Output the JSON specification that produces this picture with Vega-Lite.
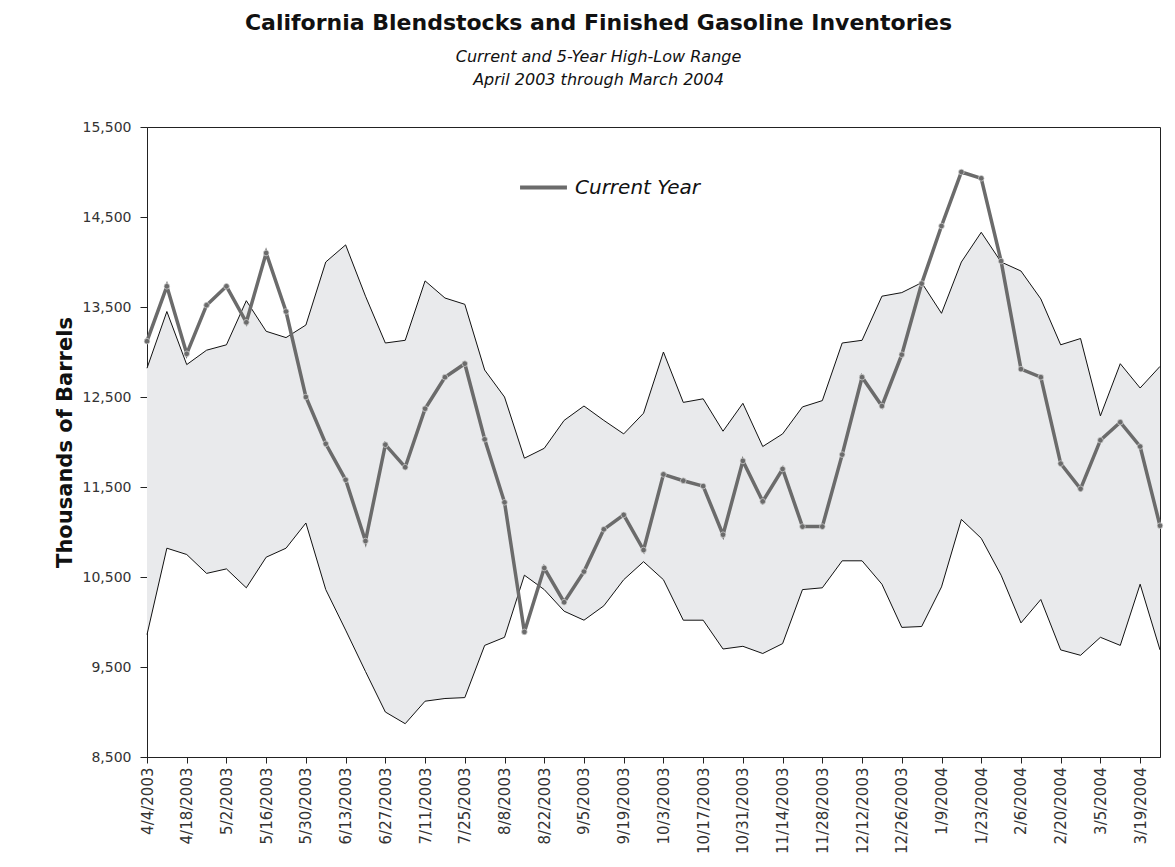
{
  "$schema": "https://vega.github.io/schema/vega-lite/v6.json",
  "width": 1013,
  "height": 630,
  "autosize": "none",
  "padding": {"left": 147, "top": 127, "right": 15, "bottom": 110},
  "background": "white",
  "config": {
    "view": {"stroke": "#222", "strokeWidth": 1},
    "font": "DejaVu Sans"
  },
  "title": {
    "text": "California Blendstocks and Finished Gasoline Inventories",
    "subtitle": ["Current and 5-Year High-Low Range", "April 2003 through March 2004"],
    "font": "DejaVu Sans",
    "fontSize": 22,
    "fontWeight": "bold",
    "color": "#111",
    "subtitleFont": "DejaVu Sans",
    "subtitleFontSize": 16,
    "subtitleFontStyle": "italic",
    "subtitleColor": "#111",
    "subtitleLineHeight": 23,
    "subtitlePadding": 14,
    "anchor": "middle",
    "frame": "group",
    "dx": -55,
    "offset": 31
  },
  "data": {
    "values": [
      {"d": "4/4/2003", "cur": 13120, "hi": 12820, "lo": 9860},
      {"d": "4/11/2003", "cur": 13730, "hi": 13450, "lo": 10820},
      {"d": "4/18/2003", "cur": 12980, "hi": 12860, "lo": 10750},
      {"d": "4/25/2003", "cur": 13520, "hi": 13020, "lo": 10540},
      {"d": "5/2/2003", "cur": 13730, "hi": 13080, "lo": 10590},
      {"d": "5/9/2003", "cur": 13330, "hi": 13570, "lo": 10380},
      {"d": "5/16/2003", "cur": 14100, "hi": 13230, "lo": 10720},
      {"d": "5/23/2003", "cur": 13450, "hi": 13160, "lo": 10820},
      {"d": "5/30/2003", "cur": 12500, "hi": 13300, "lo": 11100},
      {"d": "6/6/2003", "cur": 11980, "hi": 14000, "lo": 10360},
      {"d": "6/13/2003", "cur": 11580, "hi": 14190, "lo": 9910},
      {"d": "6/20/2003", "cur": 10900, "hi": 13620, "lo": 9450},
      {"d": "6/27/2003", "cur": 11970, "hi": 13100, "lo": 9000},
      {"d": "7/4/2003", "cur": 11720, "hi": 13130, "lo": 8870},
      {"d": "7/11/2003", "cur": 12370, "hi": 13790, "lo": 9120},
      {"d": "7/18/2003", "cur": 12720, "hi": 13600, "lo": 9150},
      {"d": "7/25/2003", "cur": 12870, "hi": 13530, "lo": 9160},
      {"d": "8/1/2003", "cur": 12030, "hi": 12800, "lo": 9740},
      {"d": "8/8/2003", "cur": 11330, "hi": 12500, "lo": 9830},
      {"d": "8/15/2003", "cur": 9890, "hi": 11820, "lo": 10520},
      {"d": "8/22/2003", "cur": 10600, "hi": 11930, "lo": 10360},
      {"d": "8/29/2003", "cur": 10220, "hi": 12240, "lo": 10120},
      {"d": "9/5/2003", "cur": 10560, "hi": 12400, "lo": 10020},
      {"d": "9/12/2003", "cur": 11030, "hi": 12240, "lo": 10180},
      {"d": "9/19/2003", "cur": 11190, "hi": 12090, "lo": 10470},
      {"d": "9/26/2003", "cur": 10800, "hi": 12320, "lo": 10670},
      {"d": "10/3/2003", "cur": 11640, "hi": 13000, "lo": 10470},
      {"d": "10/10/2003", "cur": 11570, "hi": 12440, "lo": 10020},
      {"d": "10/17/2003", "cur": 11510, "hi": 12480, "lo": 10020},
      {"d": "10/24/2003", "cur": 10970, "hi": 12120, "lo": 9700},
      {"d": "10/31/2003", "cur": 11790, "hi": 12430, "lo": 9730},
      {"d": "11/7/2003", "cur": 11340, "hi": 11950, "lo": 9650},
      {"d": "11/14/2003", "cur": 11700, "hi": 12090, "lo": 9760},
      {"d": "11/21/2003", "cur": 11060, "hi": 12390, "lo": 10360},
      {"d": "11/28/2003", "cur": 11060, "hi": 12460, "lo": 10380},
      {"d": "12/5/2003", "cur": 11860, "hi": 13100, "lo": 10680},
      {"d": "12/12/2003", "cur": 12720, "hi": 13130, "lo": 10680},
      {"d": "12/19/2003", "cur": 12400, "hi": 13620, "lo": 10420},
      {"d": "12/26/2003", "cur": 12970, "hi": 13660, "lo": 9940},
      {"d": "1/2/2004", "cur": 13760, "hi": 13770, "lo": 9950},
      {"d": "1/9/2004", "cur": 14400, "hi": 13430, "lo": 10390},
      {"d": "1/16/2004", "cur": 15000, "hi": 14000, "lo": 11140},
      {"d": "1/23/2004", "cur": 14930, "hi": 14330, "lo": 10930},
      {"d": "1/30/2004", "cur": 14010, "hi": 14000, "lo": 10520},
      {"d": "2/6/2004", "cur": 12810, "hi": 13900, "lo": 9990},
      {"d": "2/13/2004", "cur": 12720, "hi": 13590, "lo": 10250},
      {"d": "2/20/2004", "cur": 11760, "hi": 13080, "lo": 9690},
      {"d": "2/27/2004", "cur": 11480, "hi": 13150, "lo": 9630},
      {"d": "3/5/2004", "cur": 12020, "hi": 12290, "lo": 9830},
      {"d": "3/12/2004", "cur": 12220, "hi": 12870, "lo": 9740},
      {"d": "3/19/2004", "cur": 11950, "hi": 12600, "lo": 10420},
      {"d": "3/26/2004", "cur": 11070, "hi": 12840, "lo": 9690}
    ]
  },
  "encoding": {
    "x": {
      "field": "d",
      "type": "ordinal",
      "sort": null,
      "scale": {"type": "point", "padding": 0},
      "axis": {
        "title": null,
        "values": ["4/4/2003", "4/18/2003", "5/2/2003", "5/16/2003", "5/30/2003", "6/13/2003", "6/27/2003", "7/11/2003", "7/25/2003", "8/8/2003", "8/22/2003", "9/5/2003", "9/19/2003", "10/3/2003", "10/17/2003", "10/31/2003", "11/14/2003", "11/28/2003", "12/12/2003", "12/26/2003", "1/9/2004", "1/23/2004", "2/6/2004", "2/20/2004", "3/5/2004", "3/19/2004"],
        "labelAngle": -90,
        "labelFont": "DejaVu Sans",
        "labelFontSize": 15,
        "labelColor": "#333",
        "labelPadding": 4,
        "labelOverlap": false,
        "tickSize": 6,
        "tickColor": "#222",
        "domainColor": "#222",
        "grid": false
      }
    }
  },
  "layer": [
    {
      "mark": {"type": "area", "color": "#e9eaec"},
      "encoding": {
        "y": {
          "field": "lo",
          "type": "quantitative",
          "title": "Thousands of Barrels",
          "scale": {"domain": [8500, 15500], "nice": false, "zero": false},
          "axis": {
            "values": [8500, 9500, 10500, 11500, 12500, 13500, 14500, 15500],
            "format": ",.0f",
            "grid": false,
            "tickSize": 7,
            "tickColor": "#222",
            "domainColor": "#222",
            "labelFont": "DejaVu Sans",
            "labelFontSize": 14,
            "labelColor": "#333",
            "labelPadding": 9,
            "labelFlush": false,
            "labelOverlap": false,
            "titleFont": "DejaVu Sans",
            "titleFontSize": 21,
            "titleFontWeight": "bold",
            "titleColor": "#111",
            "titlePadding": 7
          }
        },
        "y2": {"field": "hi"}
      }
    },
    {
      "mark": {"type": "line", "color": "#111", "strokeWidth": 1},
      "encoding": {"y": {"field": "hi", "type": "quantitative", "title": "Thousands of Barrels"}}
    },
    {
      "mark": {"type": "line", "color": "#111", "strokeWidth": 1},
      "encoding": {"y": {"field": "lo", "type": "quantitative", "title": "Thousands of Barrels"}}
    },
    {
      "mark": {"type": "line", "strokeWidth": 3.5},
      "encoding": {
        "y": {"field": "cur", "type": "quantitative", "title": "Thousands of Barrels"},
        "color": {
          "datum": "Current Year",
          "scale": {"range": ["#6b6b6b"]},
          "legend": {
            "orient": "none",
            "legendX": 371,
            "legendY": 35,
            "title": null,
            "padding": 0,
            "symbolType": "stroke",
            "symbolSize": 2200,
            "symbolStrokeWidth": 4,
            "labelFont": "DejaVu Sans",
            "labelFontSize": 20,
            "labelFontStyle": "italic",
            "labelColor": "#111",
            "labelOffset": 6
          }
        }
      }
    },
    {
      "mark": {"type": "point", "filled": true, "size": 32, "color": "#6b6b6b", "stroke": "#d8d8d8", "strokeWidth": 0.7, "opacity": 1},
      "encoding": {"y": {"field": "cur", "type": "quantitative", "title": "Thousands of Barrels"}}
    }
  ]
}
